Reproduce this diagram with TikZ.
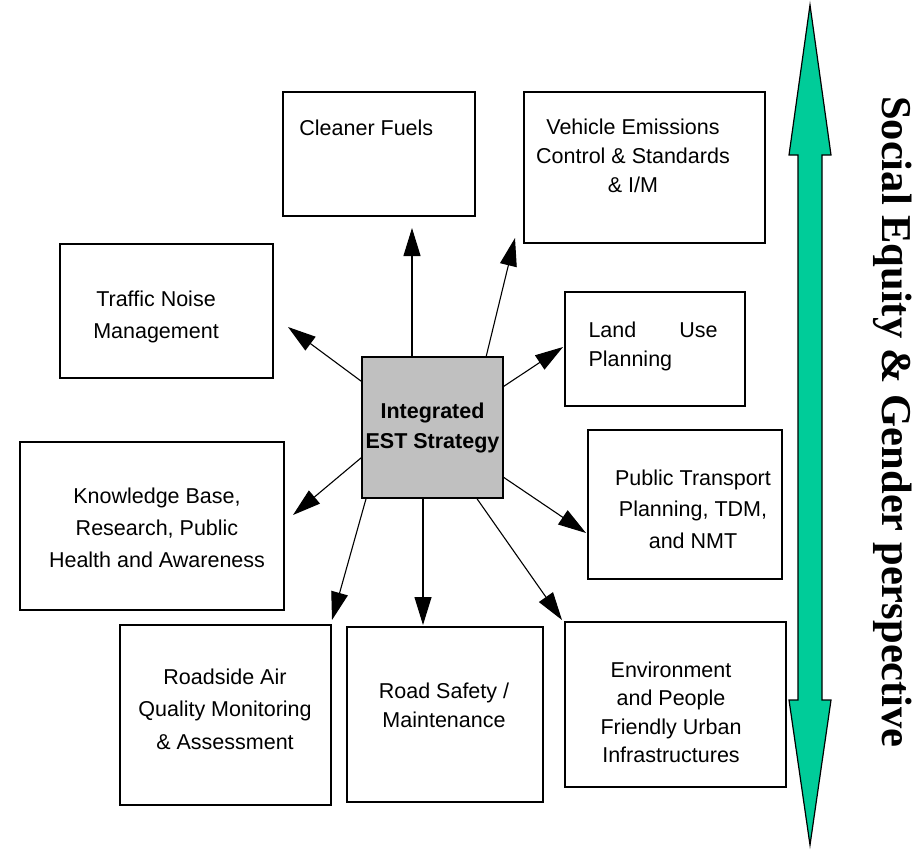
\documentclass[tikz,border=0pt]{standalone}
\usepackage{fontspec}
\setmainfont{Liberation Sans}
\newfontfamily\serifbf{Liberation Serif}
\usetikzlibrary{arrows.meta}
\definecolor{boxgray}{RGB}{192,192,192}
\definecolor{equitygreen}{RGB}{0,204,153}
\begin{document}
\begin{tikzpicture}[x=1pt,y=-1pt,
  box/.style={draw,line width=1.6pt,inner sep=0pt},
  boxtext/.style={inner sep=0pt,align=center,font=\fontsize{21.5}{#1}\selectfont},
  boxtext/.default=30,
  arr/.style={line width=1.1pt,-{Triangle[length=28pt,width=17pt]}}]
\useasboundingbox (0,0) rectangle (915,849);
\node[box,minimum width=192pt,minimum height=124pt] (fuels) at (379,154) {};
\node[boxtext,anchor=base west] (fuelstext) at ([shift={(17,44)}]fuels.north west) {Cleaner Fuels};
\node[box,minimum width=241pt,minimum height=151pt] (vehicle) at (644.5,167.5) {};
\node[boxtext=29] (vehicletext) at (633,156) {Vehicle Emissions\\Control \& Standards\\\& I/M};
\node[box,minimum width=213pt,minimum height=134pt] (noise) at (166.5,311) {};
\node[boxtext=32] (noisetext) at (156,317) {Traffic Noise\\Management};
\node[box,minimum width=180pt,minimum height=114pt] (landuse) at (655,349) {};
\node[boxtext=29,align=left] (landusetext) at (653,346) {\hbox to 129pt{Land\hfill Use}\\Planning};
\node[box,fill=boxgray,minimum width=141pt,minimum height=141pt,align=center,
  font=\bfseries\fontsize{21.5}{30}\selectfont] (est) at (432.5,427.5) {Integrated\\EST Strategy};
\node[box,minimum width=264pt,minimum height=168pt] (knowledge) at (152,526) {};
\node[boxtext=32] (knowledgetext) at (157,528) {Knowledge Base,\\Research, Public\\Health and Awareness};
\node[box,minimum width=194pt,minimum height=149pt] (transport) at (685,504.5) {};
\node[boxtext=31.5] (transporttext) at (693,509) {Public Transport\\Planning, TDM,\\and NMT};
\node[box,minimum width=211pt,minimum height=180pt] (roadside) at (225.5,715) {};
\node[boxtext=32.5] (roadsidetext) at (225,709) {Roadside Air\\Quality Monitoring\\\& Assessment};
\node[box,minimum width=196pt,minimum height=175pt] (safety) at (445,714.5) {};
\node[boxtext=29] (safetytext) at (444,705.5) {Road Safety /\\Maintenance};
\node[box,minimum width=221pt,minimum height=165pt] (environment) at (675.5,704.5) {};
\node[boxtext=28.5] (environmenttext) at (671,712.5)
  {Environment\\and People\\Friendly Urban\\Infrastructures};

\coordinate (fuelstip) at (412,228);
\coordinate (vehicletip) at (515,238);
\coordinate (noisetip) at (288,327);
\coordinate (landusetip) at (563,347);
\coordinate (knowledgetip) at (293,515);
\coordinate (transporttip) at (586,533);
\coordinate (roadsidetip) at (332,620);
\coordinate (safetytip) at (423,625);
\coordinate (environmenttip) at (562,620);
\draw[arr] (est.north -| fuelstip) -- (fuelstip);
\draw[arr] (est.53.8) -- (vehicletip);
\draw[arr] (est.147.7) -- (noisetip);
\draw[arr] (est.30.4) -- (landusetip);
\draw[arr] (est.203.4) -- (knowledgetip);
\draw[arr] (est.325.7) -- (transporttip);
\draw[arr] (est.227.9) -- (roadsidetip);
\draw[arr] (est.south -| safetytip) -- (safetytip);
\draw[arr] (est.302.3) -- (environmenttip);

\draw[line width=1.2pt,fill=equitygreen] (810,5) -- (831,155) -- (822,155) -- (822,700)
  -- (831,700) -- (810,845) -- (789,700) -- (798,700) -- (798,155) -- (789,155) -- cycle;
\node[rotate=-90,inner sep=0pt,font=\serifbf\bfseries\fontsize{42.5}{50}\selectfont] (equity)
  at (893,422) {Social Equity \& Gender perspective};
\end{tikzpicture}
\end{document}
